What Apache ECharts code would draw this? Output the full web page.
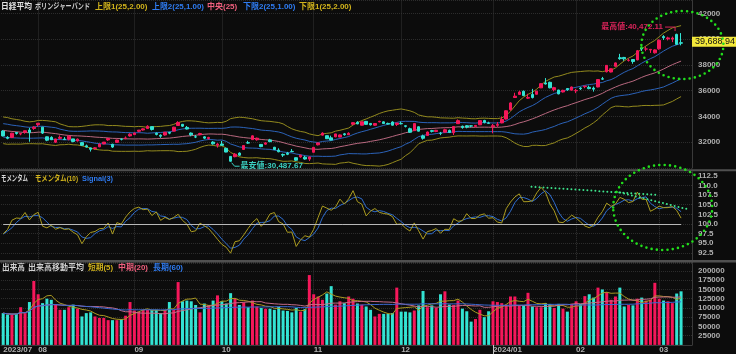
<!DOCTYPE html>
<html><head><meta charset="utf-8">
<script src="https://cdn.jsdelivr.net/npm/echarts@6.0.0/dist/echarts.min.js"></script>
<style>html,body{margin:0;padding:0;background:#0c0c0c;overflow:hidden}#c{width:736px;height:354px}</style>
</head><body><div id="c"></div><script>
// ---------- data ----------
const dates = [
'2023/07/20','2023/07/21','2023/07/24','2023/07/25','2023/07/26','2023/07/27','2023/07/28','2023/07/31',
'2023/08/01','2023/08/02','2023/08/03','2023/08/04','2023/08/07','2023/08/08','2023/08/09','2023/08/10','2023/08/14','2023/08/15','2023/08/16','2023/08/17','2023/08/18','2023/08/21','2023/08/22','2023/08/23','2023/08/24','2023/08/25','2023/08/28','2023/08/29','2023/08/30','2023/08/31',
'2023/09/01','2023/09/04','2023/09/05','2023/09/06','2023/09/07','2023/09/08','2023/09/11','2023/09/12','2023/09/13','2023/09/14','2023/09/15','2023/09/19','2023/09/20','2023/09/21','2023/09/22','2023/09/25','2023/09/26','2023/09/27','2023/09/28','2023/09/29',
'2023/10/02','2023/10/03','2023/10/04','2023/10/05','2023/10/06','2023/10/10','2023/10/11','2023/10/12','2023/10/13','2023/10/16','2023/10/17','2023/10/18','2023/10/19','2023/10/20','2023/10/23','2023/10/24','2023/10/25','2023/10/26','2023/10/27','2023/10/30','2023/10/31',
'2023/11/01','2023/11/02','2023/11/06','2023/11/07','2023/11/08','2023/11/09','2023/11/10','2023/11/13','2023/11/14','2023/11/15','2023/11/16','2023/11/17','2023/11/20','2023/11/21','2023/11/22','2023/11/24','2023/11/27','2023/11/28','2023/11/29','2023/11/30',
'2023/12/01','2023/12/04','2023/12/05','2023/12/06','2023/12/07','2023/12/08','2023/12/11','2023/12/12','2023/12/13','2023/12/14','2023/12/15','2023/12/18','2023/12/19','2023/12/20','2023/12/21','2023/12/22','2023/12/25','2023/12/26','2023/12/27','2023/12/28','2023/12/29',
'2024/01/04','2024/01/05','2024/01/09','2024/01/10','2024/01/11','2024/01/12','2024/01/15','2024/01/16','2024/01/17','2024/01/18','2024/01/19','2024/01/22','2024/01/23','2024/01/24','2024/01/25','2024/01/26','2024/01/29','2024/01/30','2024/01/31',
'2024/02/01','2024/02/02','2024/02/05','2024/02/06','2024/02/07','2024/02/08','2024/02/09','2024/02/13','2024/02/14','2024/02/15','2024/02/16','2024/02/19','2024/02/20','2024/02/21','2024/02/22','2024/02/26','2024/02/27','2024/02/28','2024/02/29',
'2024/03/01','2024/03/04','2024/03/05','2024/03/06','2024/03/07','2024/03/08'];

// closes before the first visible day (needed by the 25-day bands and 10-day momentum)
const warmClose = [33502,33485,33706,33370,33388,33575,33264,32781,32698,32538,33193,33234,33189,33753,33422,33338,32773,32388,32189,32203,31943,32419,32391,32493,32896];

const open = [
32870,32380,32370,32760,32640,32780,32950,33070,33360,33170,32420,32380,32000,32300,32250,32230,32260,32100,31970,31720,31560,31510,31640,31870,32180,31840,31990,32240,32300,32490,
32590,32850,32950,33060,33210,32700,32550,32560,32760,32860,33300,33390,33150,32710,32420,32580,32420,32290,32010,31770,
31860,31530,30900,30880,31160,31440,31960,32200,32190,31830,31850,32180,31610,31390,31050,31150,31290,30800,30860,30840,30690,
31220,31800,32550,32510,32340,32420,32400,32650,32580,33400,33550,33320,33620,33460,33320,33580,33580,33460,33570,33380,
33460,33280,33050,32900,33200,32490,32520,32900,32830,32700,32780,32920,32740,33440,33240,33280,33270,33230,33350,33690,33500,
33200,33310,33500,33800,34530,35470,35710,35960,35420,35710,35720,36220,36600,36650,36070,36050,35900,36170,36040,
35990,36210,36310,36260,36200,36290,36930,37470,37450,37890,38560,38580,38350,38420,38390,39320,39230,39160,38940,
39250,40200,40020,40010,40370,39720];
const high = [
32940,32470,32730,32780,32720,32900,33120,33240,33490,33200,32440,32460,32270,32530,32400,32540,32260,32290,32010,31820,31580,31620,31900,32020,32300,31880,32200,32300,32450,32700,
32760,32950,33080,33320,33210,32760,32610,32790,32810,33200,33630,33420,33260,32760,32560,32730,32470,32420,32080,31930,
32100,31570,30910,31160,31210,31780,32110,32530,32360,31850,31990,32260,31640,31530,31120,31250,31470,30820,31040,30940,30890,
31620,31960,32770,32520,32510,32650,32600,32720,32770,33540,33630,33600,33650,33480,33490,33660,33620,33520,33620,33500,
33600,33300,33130,33450,33230,32590,32830,32960,32960,32800,33050,32980,33260,33770,33290,33330,33310,33340,33690,33740,33590,
33420,33570,33990,34480,35100,35840,36000,36010,35760,36140,35990,36570,36980,36700,36300,36070,36070,36210,36320,
36140,36270,36370,36390,36320,36900,37070,37970,37730,38190,38860,38620,38500,38430,39160,39390,39430,39240,39210,
39990,40310,40190,40200,40420,40472.11];
const low = [
32450,32230,32320,32590,32540,32660,32040,32960,33210,32640,32080,32170,31940,32220,32180,32140,31990,32060,31710,31590,31275,31420,31620,31840,32100,31560,31950,32140,32230,32430,
32580,32770,32900,33030,32910,32530,32340,32510,32620,32850,33280,33180,32990,32470,32320,32540,32240,32200,31810,31580,
31750,31220,30487.67,30830,30940,31400,31880,32190,32120,31610,31800,32030,31390,31220,30860,31000,31230,30550,30800,30640,30540,
31200,31750,32530,32250,32150,32390,32390,32510,32560,33330,33400,33300,33360,33300,33260,33550,33420,33380,33300,33260,
33380,33150,32720,32880,32840,32200,32490,32760,32780,32550,32730,32710,32560,33420,33050,33080,33160,33200,33330,33460,33420,
32690,33190,33470,33760,34450,35460,35690,35580,35360,35400,35700,36200,36480,36180,35950,35720,35860,35990,36020,
35810,36050,36190,36110,35930,36260,36840,37420,37420,37880,38400,38320,38260,38090,38360,39080,39060,38930,38880,
39180,39940,39900,39770,39560,39520];
const close = [
32490.52,32304.25,32700.69,32682.51,32668.34,32891.16,32759.23,33172.22,
33476.58,32707.69,32159.28,32192.75,32254.56,32377.29,32204.33,32473.65,32059.91,32238.89,31766.82,31626.00,31450.76,31565.64,31856.71,32010.26,32287.21,31624.28,32169.99,32226.97,32333.46,32619.34,
32710.62,32939.18,33036.76,33241.02,32991.08,32606.84,32467.76,32776.37,32706.52,33168.10,33533.09,33242.59,33023.78,32571.03,32402.41,32678.62,32315.05,32371.90,31872.52,31857.62,
31759.88,31237.94,30526.88,31075.36,30994.67,31746.53,31936.51,32494.66,32315.99,31659.03,31951.77,32042.25,31430.62,31259.36,30999.55,31062.35,31269.92,30601.78,30991.69,30696.96,30858.85,
31601.65,31949.89,32708.48,32271.82,32166.48,32646.46,32568.11,32585.11,32695.93,33519.70,33424.41,33585.20,33388.03,33354.14,33451.83,33625.53,33447.67,33408.39,33321.22,33486.89,
33431.51,33231.27,32775.82,33445.90,32858.31,32307.86,32791.80,32843.71,32926.35,32686.25,32970.55,32758.98,33219.39,33675.94,33140.47,33169.05,33254.03,33305.85,33681.24,33539.62,33464.17,
33288.29,33377.42,33763.18,34441.72,35049.86,35577.11,35901.79,35619.18,35477.75,35466.17,35963.27,36546.95,36517.57,36226.48,36236.47,35751.07,36026.94,36065.86,36286.71,
36011.46,36158.02,36354.16,36160.66,36119.92,36863.28,36897.42,37963.97,37703.32,38157.94,38487.24,38470.38,38363.61,38262.16,39098.68,39233.71,39239.52,39208.03,39166.19,
39910.82,40109.23,40097.63,40090.78,39598.71,39688.94];
const volume = [
86000,82000,82000,84000,102000,86000,116000,173000,137000,113000,125000,122000,109000,95000,95000,102000,109000,98000,77000,86000,88000,77000,73000,73000,67000,67000,67000,70000,79000,116000,
93000,90000,95000,95000,95000,95000,86000,95000,116000,95000,170000,118000,120000,118000,108000,88000,112000,108000,120000,134000,
118000,112000,140000,126000,108000,115000,102000,120000,104000,100000,98000,98000,95000,103000,93000,92000,88000,100000,90000,97000,189000,
137000,131000,122000,139000,159000,109000,118000,113000,131000,125000,112000,109000,104000,95000,77000,84000,84000,84000,86000,155000,
90000,90000,88000,93000,107000,146000,102000,107000,100000,137000,145000,109000,108000,120000,98000,91000,63000,70000,95000,75000,91000,
118000,116000,113000,109000,131000,131000,107000,107000,141000,104000,102000,102000,113000,111000,100000,111000,98000,90000,111000,
118000,111000,132000,137000,128000,155000,150000,143000,122000,131000,155000,104000,108000,107000,125000,128000,120000,122000,168000,
125000,120000,118000,113000,139000,145000];

// ---------- derived indicators ----------
const N = close.length;
const cats = dates.concat(['pad1', 'pad2']);
const allC = warmClose.concat(close), W = warmClose.length;
const mid = [], up1 = [], up2 = [], lo1 = [], lo2 = [];
for (let i = 0; i < N; i++) {
  const w = allC.slice(W + i - 24, W + i + 1);
  const m = w.reduce((a, b) => a + b, 0) / w.length;
  const sd = Math.sqrt(w.reduce((a, b) => a + (b - m) * (b - m), 0) / w.length);
  mid.push(m); up1.push(m + 2 * sd); up2.push(m + sd); lo2.push(m - sd); lo1.push(m - 2 * sd);
}
const momAt = j => allC[W + j] / allC[W + j - 10] * 100;
const mom = [], sig = [];
for (let i = 0; i < N; i++) { mom.push(momAt(i)); sig.push((momAt(i) + momAt(i - 1) + momAt(i - 2)) / 3); }
const maV = n => volume.map((v, i) => { const s = volume.slice(Math.max(0, i - n + 1), i + 1); return s.reduce((a, b) => a + b, 0) / s.length; });
const vol5 = maV(5), vol20 = maV(20), vol60 = maV(60);

// ---------- styles ----------
const UP = '#f5175a', DN = '#33e3d3';
const C_OUT = '#938a1e', C_IN = '#2b62b8', C_MID = '#b8687f';
const C_MOM = '#ab9c20', C_SIG = '#2f6ed0';
const T_YEL = '#d2b41c', T_BLU = '#2f7cf2', T_PNK = '#f0607e';
const AXC = '#3a3a3a', GRIDC = '#2c2c2c', LABC = '#b0b0b0';
const FONT = '"Liberation Sans", "Noto Sans CJK JP", sans-serif';

const isMonthStart = i => i === 0 || (i < N && dates[i].slice(5, 7) !== dates[i - 1].slice(5, 7));
const grids = [
  { left: 1, right: 44, top: 0.5, height: 167.5 },
  { left: 1, right: 44, top: 171.8, height: 90.8 },
  { left: 1, right: 44, top: 263.6, height: 81.3 }
].map(g => Object.assign(g, { outerBoundsMode: 'none', containLabel: false }));

const xAxes = [0, 1, 2].map(k => ({
  type: 'category', gridIndex: k, data: cats, boundaryGap: true,
  axisLine: { show: k === 2, lineStyle: { color: AXC } },
  axisTick: { show: k === 2, interval: (i) => i === 112, alignWithLabel: true, length: 9, lineStyle: { color: '#c8c8c8' } },
  axisLabel: {
    show: k === 2, interval: (i) => isMonthStart(i), color: LABC, fontSize: 8, fontWeight: 'bold',
    fontFamily: FONT, align: 'left', margin: 1,
    formatter: (v, i) => { if (i === 0 || v.slice(5, 7) === '01') return v.slice(0, 7); return v.slice(5, 7); }
  },
  splitLine: { show: true, interval: (i) => i > 0 && isMonthStart(i), alignWithLabel: true, lineStyle: { color: '#343434', type: 'dotted' } }
}));
const yBase = (k, min, max, interval, fmt) => ({
  type: 'value', gridIndex: k, position: 'right', min, max, interval, scale: true,
  axisLine: { show: true, lineStyle: { color: AXC } }, axisTick: { show: false },
  axisLabel: { color: LABC, fontSize: 8, fontWeight: 'bold', fontFamily: '"Liberation Sans", sans-serif', margin: 6, showMinLabel: false, showMaxLabel: false, formatter: fmt },
  splitLine: { show: true, lineStyle: { color: GRIDC, type: 'dotted' } }
});
const ln = (name, data, color, k) => ({ name, type: 'line', xAxisIndex: k, yAxisIndex: k, data, symbol: 'none', showSymbol: false, silent: true, z: 3, lineStyle: { color, width: 1 }, itemStyle: { color } });

const option = {
  backgroundColor: '#0c0c0c', animation: false,
  grid: grids, xAxis: xAxes,
  yAxis: [
    yBase(0, 30000, 43000, 2000, v => String(v)),
    yBase(1, 90, 113.5, 2.5, v => v.toFixed(1)),
    yBase(2, 0, 220000, 25000, v => String(v))
  ],
  series: [
    ln('上限1', up1, C_OUT, 0), ln('上限2', up2, C_IN, 0), ln('中央', mid, C_MID, 0), ln('下限2', lo2, C_IN, 0), ln('下限1', lo1, C_OUT, 0),
    { name: '日経平均', type: 'candlestick', xAxisIndex: 0, yAxisIndex: 0, z: 4, barWidth: 3, silent: true,
      data: open.map((o, i) => [o, close[i], low[i], high[i]]),
      itemStyle: { color: UP, color0: DN, borderColor: UP, borderColor0: DN, borderWidth: 1 } },
    Object.assign(ln('モメンタム(10)', mom, C_MOM, 1), { z: 4, markLine: { silent: true, symbol: 'none', label: { show: false },
      lineStyle: { color: '#b8b8b8', width: 1, type: 'solid' }, data: [[{ coord: [0, 100] }, { coord: [N - 1, 100] }]] } }),
    ln('Signal(3)', sig, C_SIG, 1),
    { name: '出来高', type: 'bar', xAxisIndex: 2, yAxisIndex: 2, barWidth: 3, z: 2, silent: true,
      data: volume.map((v, i) => ({ value: v, itemStyle: { color: close[i] >= open[i] ? UP : DN } })) },
    Object.assign(ln('短期(5)', vol5, '#aa9a22', 2), { z: 5 }),
    Object.assign(ln('中期(20)', vol20, '#c46b88', 2), { z: 5 }),
    Object.assign(ln('長期(60)', vol60, '#3b68d2', 2), { z: 5 })
  ]
};

const chart = echarts.init(document.getElementById('c'), null, { renderer: 'canvas', width: 736, height: 354 });
chart.setOption(option);

// ---------- annotations ----------
const px = (g, x, y) => {
  const i0 = Math.floor(x);
  const a = chart.convertToPixel({ gridIndex: g }, [i0, y]);
  const b = chart.convertToPixel({ gridIndex: g }, [i0 + 1, y]);
  return [a[0] + (b[0] - a[0]) * (x - i0), a[1]];
};
const mctx = document.createElement('canvas').getContext('2d');
const T = (x, y, text, fill, extra, targetW) => {
  const st = Object.assign({ text, fill, fontSize: 8, fontWeight: 'bold', fontFamily: FONT, verticalAlign: 'middle', align: 'left' }, extra || {});
  let sx = 1;
  if (targetW) {
    mctx.font = st.fontWeight + ' ' + st.fontSize + 'px ' + FONT;
    const w = mctx.measureText(text).width;
    sx = Math.min(1, targetW / w);
  }
  return { type: 'text', x, y, scaleX: sx, silent: true, z: 200, style: st };
};
const g = [];
g.push({ type: 'rect', shape: { x: 0, y: 169.3, width: 736, height: 2 }, style: { fill: '#505050' }, z: 150, silent: true });
g.push({ type: 'rect', shape: { x: 0, y: 260, width: 736, height: 2.5 }, style: { fill: '#505050' }, z: 150, silent: true });
// legends: [left, right, text, colour]
[[1, 32, '日経平均', '#e4e4e4'], [35, 90, 'ボリンジャーバンド', '#cfcfcf'], [95, 148, '上限1(25,2.00)', T_YEL], [152, 204, '上限2(25,1.00)', T_BLU],
 [207, 239, '中央(25)', T_PNK], [243, 296, '下限2(25,1.00)', T_BLU], [299, 353, '下限1(25,2.00)', T_YEL]]
  .forEach(d => g.push(T(d[0], 6.5, d[2], d[3], null, d[1] - d[0])));
[[1, 28, 'モメンタム', '#d8d8d8'], [35, 78, 'モメンタム(10)', T_YEL], [82, 113, 'Signal(3)', T_BLU]]
  .forEach(d => g.push(T(d[0], 179, d[2], d[3], null, d[1] - d[0])));
[[2, 25, '出来高', '#d0d0d0'], [28, 85, '出来高移動平均', '#d0d0d0'], [88, 113, '短期(5)', T_YEL], [118, 148, '中期(20)', T_PNK], [153, 183, '長期(60)', T_BLU]]
  .forEach(d => g.push(T(d[0], 267.5, d[2], d[3], null, d[1] - d[0])));

// highest / lowest
let hi = 0, lo = 0;
for (let i = 1; i < N; i++) { if (high[i] > high[hi]) hi = i; if (low[i] < low[lo]) lo = i; }
const fmt2 = v => v.toLocaleString('en-US', { minimumFractionDigits: 2, maximumFractionDigits: 2 });
const ph = px(0, hi, high[hi]);
g.push({ type: 'polyline', shape: { points: [[ph[0] - 16, ph[1] - 6], [ph[0] - 6, ph[1] - 6], [ph[0] - 6, ph[1] - 2]] }, style: { stroke: '#d8245a', lineWidth: 1, fill: null }, z: 190, silent: true });
g.push(T(ph[0] - 18, ph[1] - 6, '最高値:' + fmt2(high[hi]), '#d8245a', { align: 'right' }));
const pl = px(0, lo, low[lo]);
g.push({ type: 'polyline', shape: { points: [[pl[0] + 1, pl[1] + 1], [pl[0] + 4, pl[1] + 4.5], [pl[0] + 9, pl[1] + 4.5]] }, style: { stroke: '#3cd0c2', lineWidth: 1, fill: null }, z: 190, silent: true });
g.push(T(pl[0] + 10, pl[1] + 4.5, '最安値:' + fmt2(low[lo]), '#3cd0c2'));
// last price tag
const pc = px(0, N - 1, close[N - 1]);
g.push({ type: 'text', x: 692, y: pc[1] - 1.5, z: 210, silent: true,
  style: { text: fmt2(close[N - 1]), fill: '#111', backgroundColor: '#f3e83a', padding: [1, 3, 0, 3], fontSize: 9, fontFamily: '"Liberation Sans", sans-serif', verticalAlign: 'middle', align: 'left' } });

// hand-drawn green marks
const c1 = px(0, 155.3, 39546), c2 = px(1, 150.8, 104.27);
const dotC = { fill: null, stroke: '#22dd1c', lineWidth: 2.6, lineDash: [0, 5.3], lineCap: 'round' };
g.push({ type: 'ellipse', shape: { cx: c1[0], cy: c1[1], rx: 41, ry: 34 }, style: dotC, z: 220, silent: true });
g.push({ type: 'ellipse', shape: { cx: c2[0], cy: c2[1], rx: 49.5, ry: 42.5 }, style: dotC, z: 220, silent: true });
const dotL = { stroke: '#3ee58c', lineWidth: 2, lineDash: [0, 4], lineCap: 'round' };
[[120.8, 109.65, 149.7, 107.5], [140.2, 108.36, 156.6, 103.8]].forEach(s => {
  const a = px(1, s[0], s[1]), b = px(1, s[2], s[3]);
  g.push({ type: 'line', shape: { x1: a[0], y1: a[1], x2: b[0], y2: b[1] }, style: dotL, z: 215, silent: true });
});
chart.setOption({ graphic: { elements: g } });
</script></body></html>
